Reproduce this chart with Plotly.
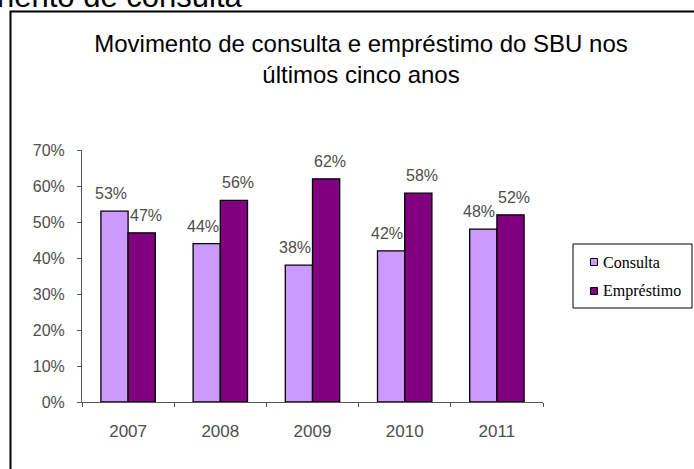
import plotly.graph_objects as go

years = ["2007", "2008", "2009", "2010", "2011"]
consulta = [53, 44, 38, 42, 48]
emprestimo = [47, 56, 62, 58, 52]
series_names = ["Consulta", "Empréstimo"]
series_colors = ["#CC99FF", "#800080"]
yticks = [0, 10, 20, 30, 40, 50, 60, 70]

W, H = 694, 469
L, R, T, B = 82, 151, 150, 67
pw, ph = W - L - R, H - T - B
BARGAP = 0.41

def px(x):
    return (x - L) / pw

def py(y):
    return (H - B - y) / ph

LABEL_FONT = dict(family="Liberation Sans, Arial", size=16, color="#4d4d4d")

fig = go.Figure()
for name, vals, col in zip(series_names, [consulta, emprestimo], series_colors):
    fig.add_trace(go.Bar(
        x=years, y=vals, name=name,
        marker=dict(color=col, line=dict(color="#000000", width=1.3)),
        showlegend=False, hoverinfo="skip",
    ))

shapes = [dict(
    type="rect", xref="paper", yref="paper",
    x0=px(10.5), x1=px(730), y0=py(520), y1=py(11.5),
    line=dict(color="#000000", width=2), fillcolor="rgba(0,0,0,0)", layer="below",
)]
# legend box
shapes.append(dict(
    type="rect", xref="paper", yref="paper",
    x0=px(573), x1=px(692), y0=py(308), y1=py(244),
    line=dict(color="#000000", width=1), fillcolor="white", layer="below",
))
annotations = [dict(
    text="nento de consulta", xref="paper", yref="paper",
    x=px(245), y=py(16), xanchor="right", yanchor="bottom",
    showarrow=False,
    font=dict(family="Liberation Sans, Arial", size=31, color="#000000"),
)]

# value labels above each bar, placed on the category axis by index
bar_px = pw / len(years) * (1 - BARGAP) / 2
for k, vals in enumerate([consulta, emprestimo]):
    sign = -1 if k == 0 else 1
    for idx, v in enumerate(vals):
        annotations.append(dict(
            x=idx, y=v, xref="x", yref="y", text=f"{v}%",
            xanchor="center", yanchor="bottom", showarrow=False,
            xshift=sign * (bar_px / 2 + 4), yshift=7,
            font=LABEL_FONT,
        ))

for i, (name, col) in enumerate(zip(series_names, series_colors)):
    cy = 262 + 29 * i
    shapes.append(dict(
        type="rect", xref="paper", yref="paper",
        x0=px(590.5), x1=px(597.5), y0=py(cy + 3.5), y1=py(cy - 3.5),
        line=dict(color="#000000", width=1), fillcolor=col,
    ))
    annotations.append(dict(
        text=name, xref="paper", yref="paper",
        x=px(601), y=py(cy), xanchor="left", yanchor="middle",
        showarrow=False,
        font=dict(family="Liberation Serif, Times New Roman", size=16, color="#000000"),
    ))

fig.update_layout(
    width=W, height=H,
    margin=dict(l=L, r=R, t=T, b=B, autoexpand=False),
    paper_bgcolor="white", plot_bgcolor="white",
    barmode="group", bargap=BARGAP, bargroupgap=0,
    showlegend=False,
    title=dict(
        text="Movimento de consulta e empréstimo do SBU nos<br>últimos cinco anos",
        xref="container", x=361 / W, xanchor="center",
        yref="container", y=1 - 52 / H, yanchor="top",
        font=dict(family="Liberation Sans, Arial", size=24, color="#000000"),
    ),
    xaxis=dict(
        type="category", categoryorder="array", categoryarray=years,
        range=[-0.5, len(years) - 0.5],
        tickson="boundaries", ticks="outside", ticklen=4,
        tickcolor="#555555", showline=True, linecolor="#555555", linewidth=1,
        showgrid=False, ticklabelstandoff=14, tickangle=0,
        tickfont=dict(family="Liberation Sans, Arial", size=17, color="#4d4d4d"),
    ),
    yaxis=dict(
        range=[0, 70], tickvals=yticks, ticktext=[f"{v}%" for v in yticks],
        ticks="outside", ticklen=4, tickcolor="#555555",
        showline=True, linecolor="#555555", linewidth=1, showgrid=False,
        zeroline=False, ticklabelstandoff=9,
        tickfont=dict(family="Liberation Sans, Arial", size=16, color="#4d4d4d"),
    ),
    shapes=shapes,
    annotations=annotations,
)

fig.write_html("out.html", config={"displayModeBar": False},
               post_script="document.body.style.margin='0px';")
